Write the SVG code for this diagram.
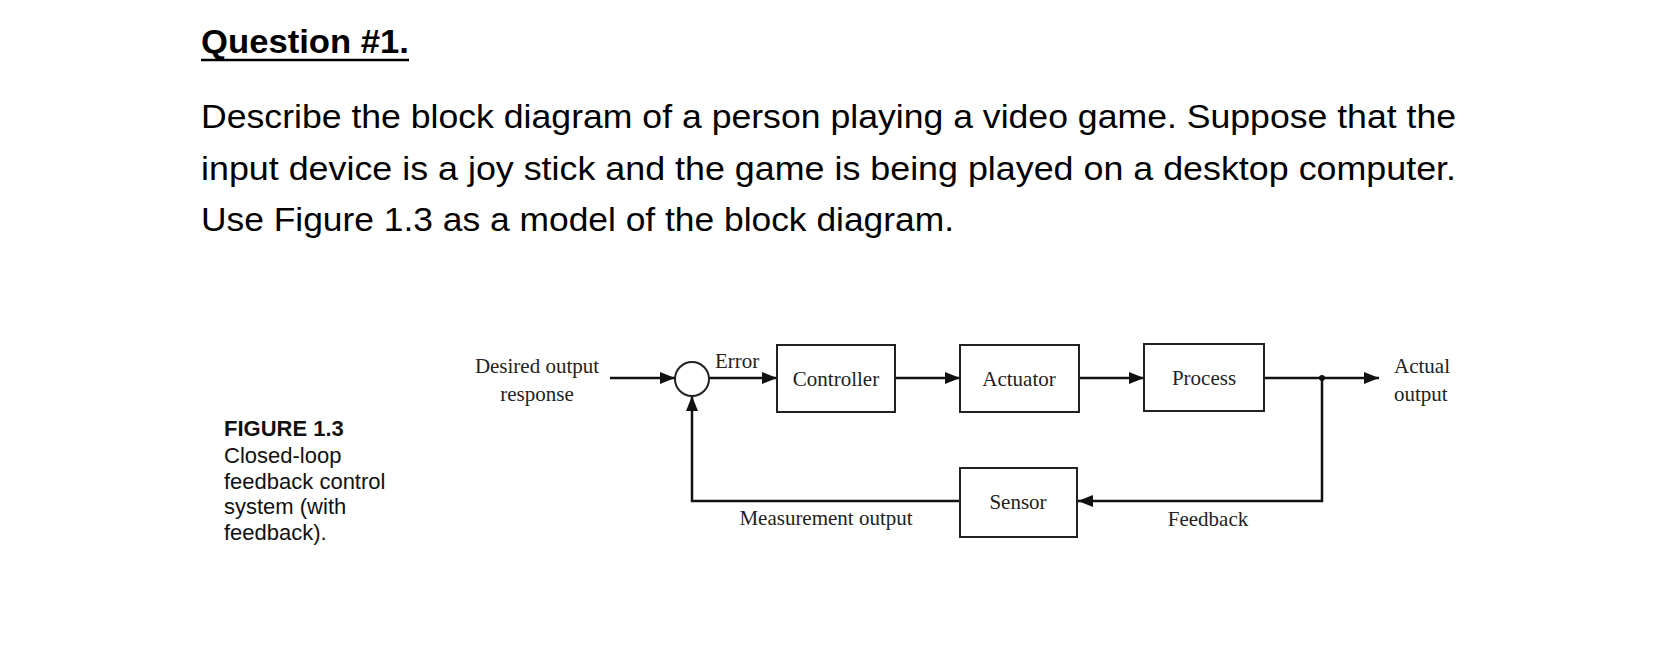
<svg xmlns="http://www.w3.org/2000/svg" width="1668" height="647" viewBox="0 0 1668 647">
<style>
.q{font-family:"Liberation Sans",Arial,sans-serif;font-size:33px;fill:#000}
.s{font-family:"Liberation Serif","Times New Roman",serif;font-size:21px;fill:#222}
.f{font-family:"Liberation Sans",Arial,sans-serif;font-size:22px;fill:#111}
.b{fill:#fff;stroke:#222;stroke-width:2}
.l{fill:none;stroke:#111;stroke-width:2.5}
</style>
<defs><marker id="a" viewBox="0 0 10 10" refX="10" refY="5" markerWidth="6.5" markerHeight="6" orient="auto" markerUnits="strokeWidth"><path d="M0,1 L10,5 L0,9z" fill="#111"/></marker></defs>
<rect width="1668" height="647" fill="#fff"/>
<text class="q" x="201" y="53" font-weight="bold" textLength="208" lengthAdjust="spacingAndGlyphs">Question #1.</text>
<line x1="201" y1="60" x2="409" y2="60" stroke="#000" stroke-width="2.5"/>
<text class="q" x="201" y="128" textLength="1255" lengthAdjust="spacingAndGlyphs">Describe the block diagram of a person playing a video game. Suppose that the</text>
<text class="q" x="201" y="180" textLength="1255" lengthAdjust="spacingAndGlyphs">input device is a joy stick and the game is being played on a desktop computer.</text>
<text class="q" x="201" y="231" textLength="753" lengthAdjust="spacingAndGlyphs">Use Figure 1.3 as a model of the block diagram.</text>
<g id="caption">
<text class="f" x="224" y="436" font-weight="bold">FIGURE 1.3</text>
<text class="f" x="224" y="463">Closed-loop</text>
<text class="f" x="224" y="489">feedback control</text>
<text class="f" x="224" y="514">system (with</text>
<text class="f" x="224" y="540">feedback).</text>
</g>
<g id="connectors">
<line class="l" x1="610" y1="378" x2="675" y2="378" marker-end="url(#a)"/>
<line class="l" x1="709" y1="378" x2="777" y2="378" marker-end="url(#a)"/>
<line class="l" x1="895" y1="378" x2="960" y2="378" marker-end="url(#a)"/>
<line class="l" x1="1079" y1="378" x2="1144" y2="378" marker-end="url(#a)"/>
<line class="l" x1="1264" y1="378" x2="1379" y2="378" marker-end="url(#a)"/>
<circle cx="1322" cy="378" r="3" fill="#111"/>
<polyline class="l" points="1322,378 1322,501 1078,501" marker-end="url(#a)"/>
<polyline class="l" points="960,501 692,501 692,396" marker-end="url(#a)"/>
</g>
<g id="sum"><circle cx="692" cy="379" r="17" fill="#fff" stroke="#222" stroke-width="2"/></g>
<g id="controller"><rect class="b" x="777" y="345" width="118" height="67"/><text class="s" x="836" y="386" text-anchor="middle">Controller</text></g>
<g id="actuator"><rect class="b" x="960" y="345" width="119" height="67"/><text class="s" x="1019" y="386" text-anchor="middle">Actuator</text></g>
<g id="process"><rect class="b" x="1144" y="344" width="120" height="67"/><text class="s" x="1204" y="385" text-anchor="middle">Process</text></g>
<g id="sensor"><rect class="b" x="960" y="468" width="117" height="69"/><text class="s" x="1018" y="509" text-anchor="middle">Sensor</text></g>
<g id="labels">
<text class="s" x="537" y="373" text-anchor="middle">Desired output</text>
<text class="s" x="537" y="401" text-anchor="middle">response</text>
<text class="s" x="715" y="368">Error</text>
<text class="s" x="1394" y="373">Actual</text>
<text class="s" x="1394" y="401">output</text>
<text class="s" x="826" y="525" text-anchor="middle">Measurement output</text>
<text class="s" x="1208" y="526" text-anchor="middle">Feedback</text>
</g>
</svg>
